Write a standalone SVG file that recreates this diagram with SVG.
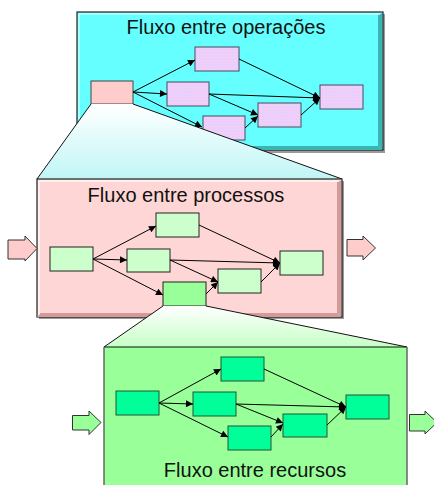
<svg xmlns="http://www.w3.org/2000/svg" width="434" height="485" viewBox="0 0 434 485">
<defs>
<style>
.t{font-family:"Liberation Sans",Arial,sans-serif;font-size:20px;fill:#111;text-anchor:middle}
.e{stroke:#000;stroke-width:1;fill:none;marker-end:url(#ah)}
.op{fill:url(#grid);stroke:#4a4a5a;stroke-width:1}
.pr{fill:#ccffcc;stroke:#222;stroke-width:1}
.rc{fill:#00ff99;stroke:#225533;stroke-width:1}
.blk{stroke:#333;stroke-width:1}
</style>
<marker id="ah" viewBox="0 0 10 10" refX="10" refY="5" markerWidth="9" markerHeight="7" markerUnits="userSpaceOnUse" orient="auto">
<path d="M0,0 L10,5 L0,10 z" fill="#000"/>
</marker>
<pattern id="grid" width="3" height="3" patternUnits="userSpaceOnUse">
<rect width="3" height="3" fill="#e2d0ff"/>
<rect width="3" height="1" fill="#f6cdf6"/>
<rect width="1" height="3" fill="#f6cdf6"/>
</pattern>
<linearGradient id="tz1" x1="0" y1="0" x2="0" y2="1">
<stop offset="0" stop-color="#ffffff"/>
<stop offset="1" stop-color="#c0f6f6"/>
</linearGradient>
<linearGradient id="tz2" x1="0" y1="0" x2="0" y2="1">
<stop offset="0" stop-color="#ffffff"/>
<stop offset="1" stop-color="#c6ffc6"/>
</linearGradient>
</defs>

<g id="panel-operacoes">
<rect x="79" y="14" width="306" height="139" fill="#9a9a9a"/>
<rect x="77" y="12" width="306" height="138" fill="#66ffff" stroke="#222" stroke-width="1.2"/>
<polygon points="378,14 382,12 382,150 378,146" fill="#3bb3b3"/>
<polygon points="79,146 378,146 382,150 77,150" fill="#3bb3b3"/>
<polygon points="78,13 382,13 379,15 80,15 80,147 78,149" fill="#aaffff"/>
<text class="t" x="226" y="34">Fluxo entre operações</text>
</g>

<g id="op-src"><rect x="91" y="81" width="42" height="23" fill="#ffcccc" stroke="#444" stroke-width="1"/></g>
<g id="op-top"><rect class="op" x="195" y="47" width="44" height="24"/></g>
<g id="op-mid"><rect class="op" x="167" y="82" width="42" height="24"/></g>
<g id="op-bot"><rect class="op" x="203" y="116" width="42" height="24"/></g>
<g id="op-mr"><rect class="op" x="258" y="103" width="43" height="24"/></g>
<g id="op-right"><rect class="op" x="320" y="85" width="43" height="24"/></g>

<g id="op-edges">
<line class="e" x1="133" y1="92" x2="195" y2="60"/>
<line class="e" x1="133" y1="92" x2="167" y2="94"/>
<line class="e" x1="133" y1="92" x2="202" y2="127"/>
<line class="e" x1="239" y1="59" x2="320" y2="98"/>
<line class="e" x1="209" y1="94" x2="320" y2="98"/>
<line class="e" x1="209" y1="94" x2="258" y2="115"/>
<line class="e" x1="245" y1="128" x2="258" y2="116"/>
<line class="e" x1="301" y1="115" x2="320" y2="98"/>
</g>

<g id="zoom-1">
<polygon points="91,104 133,104 342,179 37,179" fill="url(#tz1)"/>
<line x1="91" y1="104" x2="37" y2="179" stroke="#111" stroke-width="1"/>
<line x1="133" y1="104" x2="342" y2="179" stroke="#111" stroke-width="1"/>
</g>

<g id="panel-processos">
<rect x="39" y="181" width="305" height="138" fill="#999"/>
<rect x="37" y="179" width="305" height="138" fill="#ffd6d6" stroke="#222" stroke-width="1.2"/>
<polygon points="337,181 341,179 341,317 337,313" fill="#d49a9a"/>
<polygon points="39,313 337,313 341,317 37,317" fill="#d49a9a"/>
<polygon points="38,180 341,180 338,182 40,182 40,314 38,316" fill="#fff0f0"/>
<text class="t" x="186" y="202">Fluxo entre processos</text>
</g>

<g id="pr-in"><polygon class="blk" points="8,240 25,240 25,236 37,248.5 25,261 25,259 8,259" fill="#ffcccc"/></g>
<g id="pr-out"><polygon class="blk" points="347,239.5 363,239.5 363,236 375.5,248 363,260 363,256 347,256" fill="#ffcccc"/></g>

<g id="pr-src"><rect class="pr" x="50" y="247" width="43" height="24"/></g>
<g id="pr-top"><rect class="pr" x="156" y="213" width="43" height="24"/></g>
<g id="pr-mid"><rect class="pr" x="127" y="249" width="43" height="23"/></g>
<g id="pr-bot"><rect x="163" y="282" width="43" height="24" fill="#99ff99" stroke="#222" stroke-width="1"/></g>
<g id="pr-mr"><rect class="pr" x="218" y="269" width="43" height="24"/></g>
<g id="pr-right"><rect class="pr" x="280" y="251" width="43" height="24"/></g>

<g id="pr-edges">
<line class="e" x1="93" y1="259" x2="156" y2="226"/>
<line class="e" x1="93" y1="259" x2="127" y2="260"/>
<line class="e" x1="93" y1="259" x2="163" y2="295"/>
<line class="e" x1="199" y1="225" x2="280" y2="263"/>
<line class="e" x1="170" y1="260" x2="280" y2="263"/>
<line class="e" x1="170" y1="260" x2="218" y2="282"/>
<line class="e" x1="206" y1="294" x2="218" y2="282"/>
<line class="e" x1="261" y1="282" x2="280" y2="263"/>
</g>

<g id="zoom-2">
<polygon points="163,306 206,306 407,347 104,347" fill="url(#tz2)"/>
<line x1="163" y1="306" x2="104" y2="347" stroke="#111" stroke-width="1"/>
<line x1="206" y1="306" x2="407" y2="347" stroke="#111" stroke-width="1"/>
</g>

<g id="panel-recursos">
<rect x="104" y="347" width="303" height="140" fill="#99ff99"/>
<line x1="104" y1="347" x2="407" y2="347" stroke="#111" stroke-width="1.2"/>
<line x1="104" y1="347" x2="104" y2="485" stroke="#666" stroke-width="1.5"/>
<line x1="407" y1="347" x2="407" y2="485" stroke="#666" stroke-width="1.5"/>
<text class="t" x="255" y="477">Fluxo entre recursos</text>
</g>

<g id="rc-in"><polygon class="blk" points="72.5,415.5 89,415.5 89,411 101,422.5 89,434.5 89,430 72.5,430" fill="#99ff99"/></g>
<g id="rc-out"><polygon class="blk" points="409.5,414.5 425,414.5 425,411 437,422.5 425,434 425,431 409.5,431" fill="#99ff99"/></g>

<g id="rc-src"><rect class="rc" x="116" y="391" width="43" height="24"/></g>
<g id="rc-top"><rect class="rc" x="221" y="357" width="43" height="24"/></g>
<g id="rc-mid"><rect class="rc" x="193" y="392" width="43" height="24"/></g>
<g id="rc-bot"><rect class="rc" x="228" y="426" width="43" height="24"/></g>
<g id="rc-mr"><rect class="rc" x="283" y="414" width="44" height="23"/></g>
<g id="rc-right"><rect class="rc" x="346" y="395" width="43" height="24"/></g>

<g id="rc-edges">
<line class="e" x1="159" y1="403" x2="221" y2="369"/>
<line class="e" x1="159" y1="403" x2="193" y2="404"/>
<line class="e" x1="159" y1="403" x2="228" y2="437"/>
<line class="e" x1="264" y1="369" x2="346" y2="407"/>
<line class="e" x1="236" y1="404" x2="346" y2="407"/>
<line class="e" x1="236" y1="404" x2="283" y2="423"/>
<line class="e" x1="271" y1="437" x2="283" y2="424"/>
<line class="e" x1="327" y1="425" x2="346" y2="407"/>
</g>
</svg>
